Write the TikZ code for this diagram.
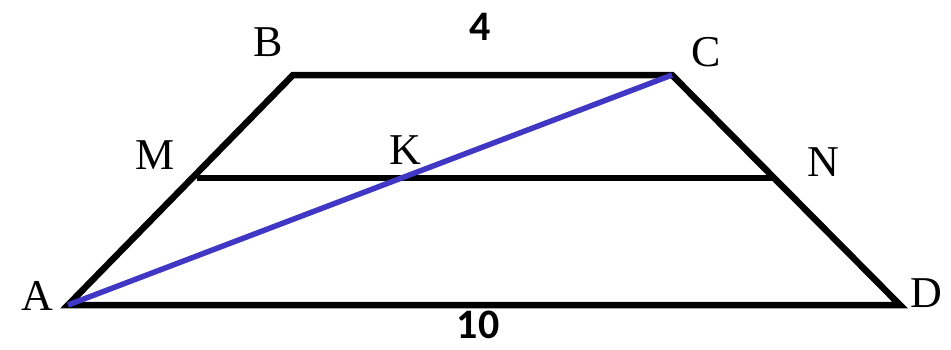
\documentclass[tikz,border=0pt]{standalone}
\usepackage{fontspec}
\setmainfont{Liberation Serif}
\newfontfamily\numfont{Carlito}
\definecolor{diagblue}{RGB}{64,56,196}
\begin{document}
\begin{tikzpicture}[x=1pt,y=-1pt,
  edge/.style={line width=6.5pt,line join=miter},
  diag/.style={line width=5.5pt,diagblue},
  lbl/.style={inner sep=0pt,font=\fontsize{44}{44}\selectfont},
  num/.style={inner sep=0pt,font=\numfont\bfseries\fontsize{42}{42}\selectfont}]
\useasboundingbox (0,0) rectangle (951,349);
\coordinate (A) at (68,305);
\coordinate (B) at (293,75);
\coordinate (C) at (672,75);
\coordinate (D) at (900,305);
\coordinate (M) at (197,178);
\coordinate (N) at (773,178);
\coordinate (K) at (405,178);
\draw[edge] (A) -- (B) -- (C) -- (D) -- cycle;
\draw[edge] (M) -- (N);
\draw[diag] (A) -- (C);
\node[lbl] (lB) at (268,42) {B};
\node[lbl] (lC) at (706,52) {C};
\node[lbl] (lM) at (155,155) {M};
\node[lbl] (lK) at (405,150) {K};
\node[lbl] (lN) at (823,162) {N};
\node[lbl] (lA) at (37,296) {A};
\node[lbl] (lD) at (926,293) {D};
\node[num] (n4) at (480,27) {4};
\node[num] (n10) at (478,325) {10};
\end{tikzpicture}
\end{document}
